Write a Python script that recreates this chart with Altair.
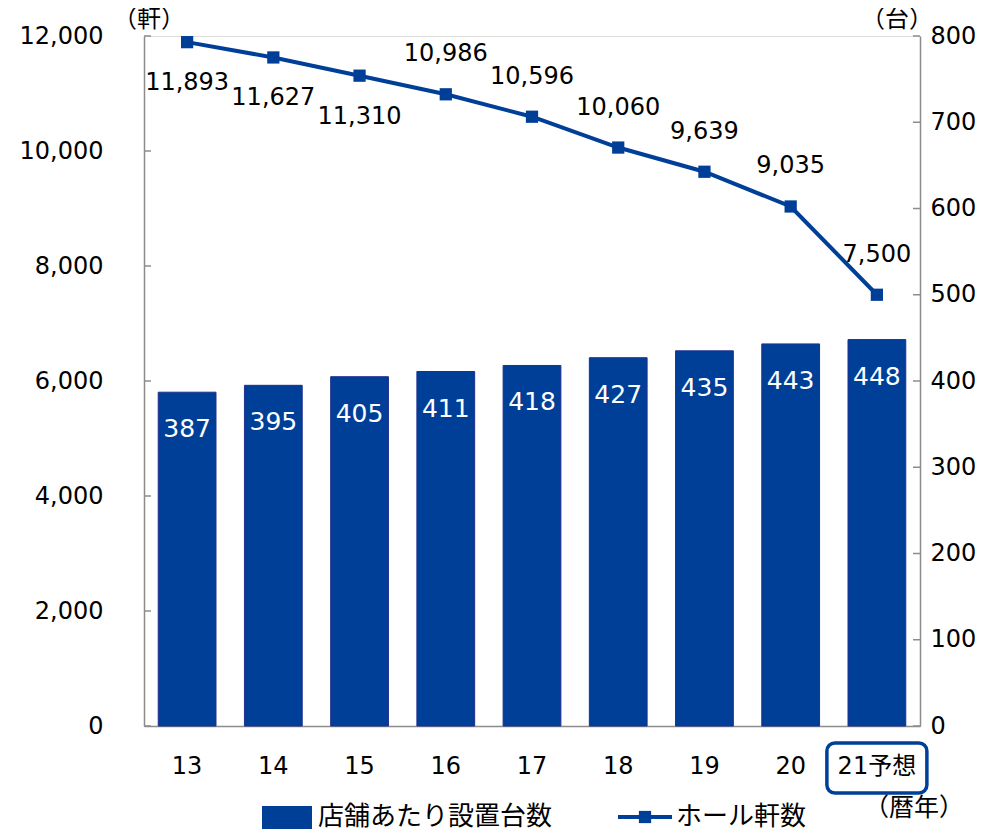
import altair as alt
import pandas as pd

years = ["13", "14", "15", "16", "17", "18", "19", "20", "21予想"]
halls = [11893, 11627, 11310, 10986, 10596, 10060, 9639, 9035, 7500]
per_store = [387, 395, 405, 411, 418, 427, 435, 443, 448]
left_ticks = [0, 2000, 4000, 6000, 8000, 10000, 12000]
right_ticks = [0, 100, 200, 300, 400, 500, 600, 700, 800]
legend_labels = ["店舗あたり設置台数", "ホール軒数"]
unit_labels = ["（軒）", "（台）", "（暦年）"]

BLUE = "#003f98"
FONT = "DejaVu Sans, Noto Sans CJK JP"
JFONT = "Noto Sans CJK JP"
W, H = 776, 690

df = pd.DataFrame({"year": years, "halls": halls, "per_store": per_store, "idx": list(range(len(years)))})
lt = pd.DataFrame({"v": left_ticks})
rt = pd.DataFrame({"v": right_ticks})

xscale = alt.Scale(domain=years, paddingInner=0.33, paddingOuter=0.165)
xaxis = alt.Axis(title=None,
                 labelAngle=0, labelAlign="center", labelBaseline="top",
                 labelFont=FONT, labelFontSize=24, labelColor="#000",
                 labelPadding=28, ticks=False, domainColor="#8c8c8c", domainWidth=1.5)


def X():
    return alt.X("year:N", sort=years, scale=xscale, axis=xaxis)


yleft = alt.Scale(domain=[0, 12000], nice=False, zero=True)
yright = alt.Scale(domain=[0, 800], nice=False, zero=True)

base = alt.Chart(df)

bars = base.mark_bar(color=BLUE, stroke="#1f2f8f", strokeWidth=1).encode(
    x=X(),
    y=alt.Y("per_store:Q", scale=yright,
            axis=alt.Axis(orient="right", values=right_ticks, format="d", grid=False, title=None,
                          labelFont=FONT, labelFontSize=24, labelColor="#000",
                          labelPadding=10, tickSize=0, domainColor="#8c8c8c", domainWidth=1.5)),
)
bar_lab = base.mark_text(font=FONT, fontSize=25, color="white", dy=37, baseline="middle").encode(
    x=X(),
    y=alt.Y("per_store:Q", scale=yright, axis=None),
    text="per_store:Q",
)
rticks = alt.Chart(rt).mark_rule(color="#8c8c8c", strokeWidth=1.5).encode(
    y=alt.Y("v:Q", scale=yright, axis=None),
    x=alt.value(W - 7), x2=alt.value(W),
)

line = base.mark_line(color=BLUE, strokeWidth=4).encode(
    x=X(),
    y=alt.Y("halls:Q", scale=yleft,
            axis=alt.Axis(orient="left", values=left_ticks, format=",d", grid=False, title=None,
                          labelFont=FONT, labelFontSize=24, labelColor="#000",
                          labelPadding=41, tickSize=0, domainColor="#8c8c8c", domainWidth=1.5)),
)
pts = base.mark_point(shape="square", filled=True, color=BLUE, size=150, opacity=1).encode(
    x=X(),
    y=alt.Y("halls:Q", scale=yleft, axis=None),
)
lab_below = base.transform_filter("datum.idx < 3").mark_text(
    font=FONT, fontSize=24, color="#000", dy=41, baseline="middle").encode(
    x=X(),
    y=alt.Y("halls:Q", scale=yleft, axis=None),
    text=alt.Text("halls:Q", format=",d"),
)
lab_above = base.transform_filter("datum.idx >= 3").mark_text(
    font=FONT, fontSize=24, color="#000", dy=-40, baseline="middle").encode(
    x=X(),
    y=alt.Y("halls:Q", scale=yleft, axis=None),
    text=alt.Text("halls:Q", format=",d"),
)
lticks = alt.Chart(lt).mark_rule(color="#8c8c8c", strokeWidth=1.5).encode(
    y=alt.Y("v:Q", scale=yleft, axis=None),
    x=alt.value(0), x2=alt.value(7),
)

box = base.transform_filter("datum.idx == 8").mark_bar(
    size=100, fillOpacity=0, stroke=BLUE, strokeWidth=3.5, cornerRadius=8).encode(
    x=X(),
    y=alt.value(H + 17), y2=alt.value(H + 67),
)

unit_df = pd.DataFrame({"label": unit_labels})


def unit_text(i, xpx, ypx, size):
    return alt.Chart(unit_df).transform_filter(f"datum.label == '{unit_labels[i]}'").mark_text(
        font=JFONT, fontSize=size, align="center", baseline="middle", color="#000").encode(
        x=alt.value(xpx), y=alt.value(ypx), text="label:N")


u0 = unit_text(0, 5, -16, 24)
u1 = unit_text(1, W - 23, -16, 24)
u2 = unit_text(2, 770, H + 82, 25)

leg_df = pd.DataFrame({"label": legend_labels})
f0 = f"datum.label == '{legend_labels[0]}'"
f1 = f"datum.label == '{legend_labels[1]}'"
LY = H + 91
leg_bar = alt.Chart(leg_df).transform_filter(f0).mark_rect(color=BLUE).encode(
    x=alt.value(118), x2=alt.value(168), y=alt.value(LY - 11), y2=alt.value(LY + 12))
leg_bar_t = alt.Chart(leg_df).transform_filter(f0).mark_text(
    font=JFONT, fontSize=26, align="left", baseline="middle", color="#000").encode(
    x=alt.value(174), y=alt.value(LY), text="label:N")
leg_line = alt.Chart(leg_df).transform_filter(f1).mark_rule(color=BLUE, strokeWidth=4).encode(
    x=alt.value(474), x2=alt.value(528), y=alt.value(LY))
leg_pt = alt.Chart(leg_df).transform_filter(f1).mark_point(
    shape="square", filled=True, color=BLUE, size=150, opacity=1).encode(
    x=alt.value(501), y=alt.value(LY))
leg_line_t = alt.Chart(leg_df).transform_filter(f1).mark_text(
    font=JFONT, fontSize=26, align="left", baseline="middle", color="#000").encode(
    x=alt.value(532), y=alt.value(LY), text="label:N")

chart = alt.layer(bars, bar_lab, rticks, line, pts, lab_below, lab_above, lticks, box,
                  u0, u1, u2,
                  leg_bar, leg_bar_t, leg_line, leg_pt, leg_line_t).resolve_scale(
    y="independent").properties(
    width=W, height=H,
    autosize=alt.AutoSizeParams(type="none"),
    padding={"left": 136, "top": 28, "right": 74, "bottom": 106},
).configure_view(strokeWidth=0).configure(background="white")

chart.save("out.html", embed_options={"renderer": "svg", "actions": False})
